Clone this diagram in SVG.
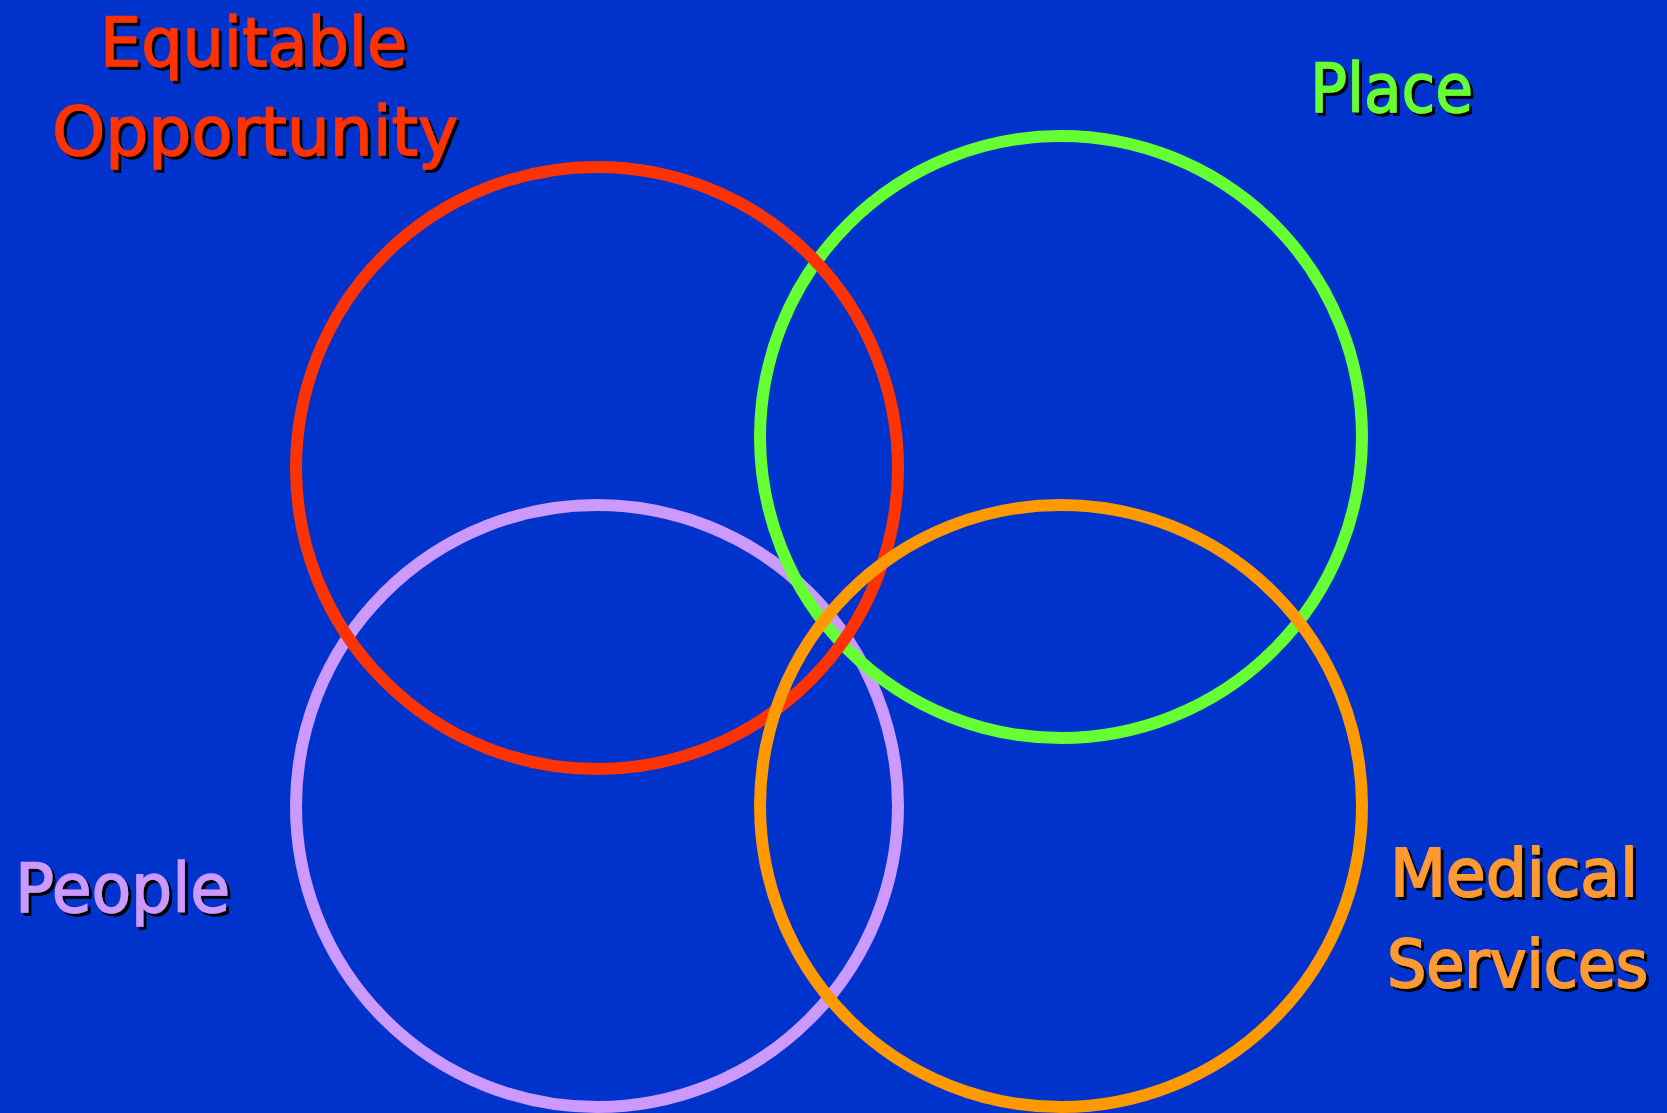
<svg xmlns="http://www.w3.org/2000/svg" width="1667" height="1113" viewBox="0 0 1667 1113">
<defs>
<filter id="shadow" x="-5%" y="-20%" width="112%" height="150%">
<feDropShadow dx="3" dy="3" stdDeviation="0.6" flood-color="#000000" flood-opacity="1"/>
</filter>
<style>
.ring{fill:none;stroke-width:12}
.lbl{font-family:"DejaVu Sans","Liberation Sans",sans-serif;font-size:68px;stroke-width:1.4;filter:url(#shadow)}
.sm{font-size:65px;stroke-width:1.8}
</style>
</defs>
<rect x="0" y="0" width="1667" height="1113" fill="#0033CC"/>
<g id="connectors"></g>
<g id="people-circle"><circle class="ring" cx="597" cy="806" r="301" stroke="#CC99FF"/></g>
<g id="place-circle"><circle class="ring" cx="1061" cy="437" r="301" stroke="#66FF33"/></g>
<g id="opportunity-circle"><circle class="ring" cx="597" cy="468" r="301" stroke="#FF3300"/></g>
<g id="medical-circle"><circle class="ring" cx="1061" cy="806" r="301" stroke="#FF9900"/></g>
<g id="label-opportunity" class="lbl" fill="#FF3300" stroke="#FF3300">
<text x="100" y="66" textLength="307" lengthAdjust="spacingAndGlyphs">Equitable</text>
<text x="52" y="155" textLength="406" lengthAdjust="spacingAndGlyphs">Opportunity</text>
</g>
<g id="label-place" class="lbl" fill="#66FF33" stroke="#66FF33">
<text x="1310" y="112" textLength="163" lengthAdjust="spacingAndGlyphs">Place</text>
</g>
<g id="label-people" class="lbl" fill="#CC99FF" stroke="#CC99FF">
<text x="15" y="912" textLength="215" lengthAdjust="spacingAndGlyphs">People</text>
</g>
<g id="label-medical" class="lbl sm" fill="#FF9933" stroke="#FF9933">
<text x="1390" y="896" textLength="248" lengthAdjust="spacingAndGlyphs">Medical</text>
<text x="1387" y="987" textLength="261" lengthAdjust="spacingAndGlyphs">Services</text>
</g>
</svg>
